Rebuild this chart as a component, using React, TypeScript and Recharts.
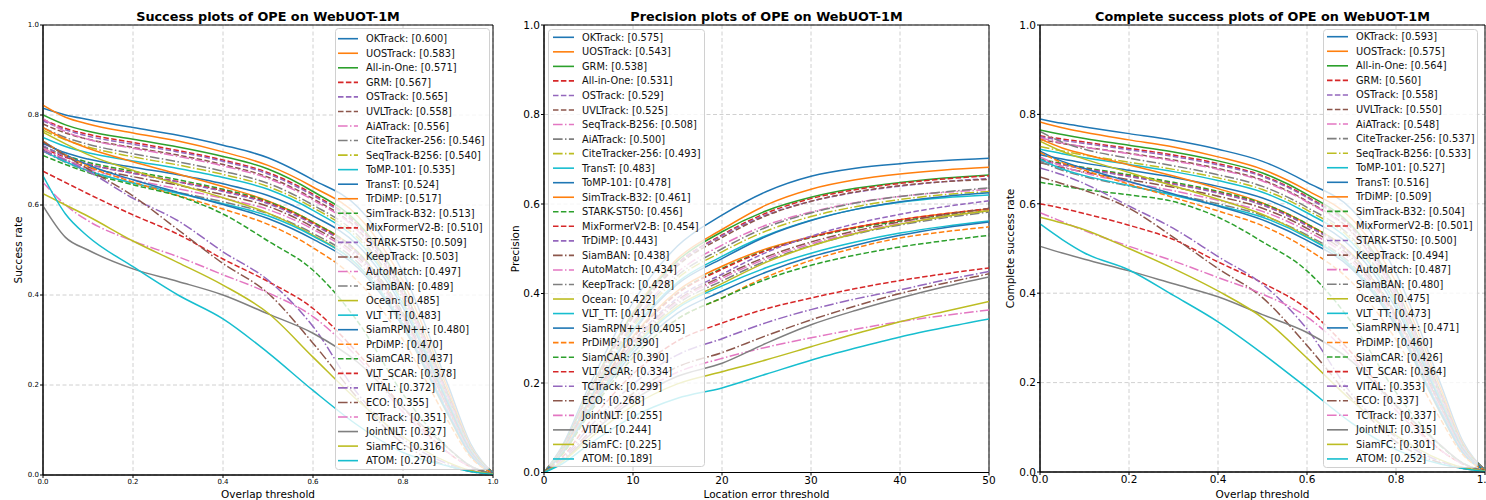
import React from 'react';
import { LineChart, Line, XAxis, YAxis, CartesianGrid, Legend, ReferenceArea } from 'recharts';

// ---------- shared styling ----------
const COLORS = ['#1f77b4', '#ff7f0e', '#2ca02c', '#d62728', '#9467bd', '#8c564b', '#e377c2', '#7f7f7f', '#bcbd22', '#17becf'];
const DASHES = ['', '5.5 2.4', '9.6 2.4 1.5 2.4'];
const colorOf = (i: number) => COLORS[i % 10];
const dashOf = (i: number) => DASHES[Math.floor(i / 3) % 3] || undefined;
const FONT = 'DejaVu Sans, Verdana, sans-serif';

// ---------- panel 1: success plot ----------
const successX = [0, 0.05, 0.1, 0.2, 0.3, 0.4, 0.5, 0.6, 0.7, 0.8, 0.9, 0.95, 1];
const successTicks = [0, 0.2, 0.4, 0.6, 0.8, 1];
const successNames = ['OKTrack', 'UOSTrack', 'All-in-One', 'GRM', 'OSTrack', 'UVLTrack', 'AiATrack', 'CiteTracker-256', 'SeqTrack-B256', 'ToMP-101', 'TransT', 'TrDiMP', 'SimTrack-B32', 'MixFormerV2-B', 'STARK-ST50', 'KeepTrack', 'AutoMatch', 'SiamBAN', 'Ocean', 'VLT_TT', 'SiamRPN++', 'PrDiMP', 'SiamCAR', 'VLT_SCAR', 'VITAL', 'ECO', 'TCTrack', 'JointNLT', 'SiamFC', 'ATOM'];
const successScores = ['0.600', '0.583', '0.571', '0.567', '0.565', '0.558', '0.556', '0.546', '0.540', '0.535', '0.524', '0.517', '0.513', '0.510', '0.509', '0.503', '0.497', '0.489', '0.485', '0.483', '0.480', '0.470', '0.437', '0.378', '0.372', '0.355', '0.351', '0.327', '0.316', '0.270'];
const successValues = [
  [0.815, 0.800, 0.790, 0.772, 0.755, 0.733, 0.705, 0.656, 0.595, 0.450, 0.200, 0.070, 0.005],
  [0.822, 0.795, 0.780, 0.760, 0.742, 0.718, 0.688, 0.640, 0.575, 0.430, 0.190, 0.065, 0.005],
  [0.800, 0.778, 0.764, 0.746, 0.729, 0.708, 0.680, 0.630, 0.560, 0.415, 0.180, 0.062, 0.005],
  [0.790, 0.770, 0.757, 0.739, 0.721, 0.700, 0.672, 0.624, 0.555, 0.410, 0.178, 0.060, 0.005],
  [0.787, 0.767, 0.753, 0.735, 0.718, 0.697, 0.669, 0.621, 0.552, 0.408, 0.177, 0.060, 0.005],
  [0.780, 0.760, 0.746, 0.728, 0.711, 0.690, 0.662, 0.614, 0.545, 0.400, 0.172, 0.058, 0.005],
  [0.792, 0.763, 0.746, 0.726, 0.708, 0.687, 0.659, 0.611, 0.542, 0.398, 0.170, 0.057, 0.005],
  [0.772, 0.750, 0.735, 0.714, 0.696, 0.675, 0.648, 0.600, 0.532, 0.390, 0.167, 0.056, 0.005],
  [0.766, 0.745, 0.729, 0.707, 0.689, 0.668, 0.641, 0.594, 0.526, 0.384, 0.164, 0.055, 0.005],
  [0.750, 0.730, 0.716, 0.698, 0.681, 0.661, 0.635, 0.588, 0.520, 0.380, 0.162, 0.054, 0.005],
  [0.737, 0.716, 0.702, 0.684, 0.667, 0.647, 0.621, 0.576, 0.510, 0.372, 0.158, 0.052, 0.005],
  [0.772, 0.746, 0.726, 0.696, 0.669, 0.641, 0.609, 0.562, 0.495, 0.355, 0.148, 0.048, 0.004],
  [0.730, 0.710, 0.695, 0.675, 0.656, 0.635, 0.608, 0.562, 0.495, 0.360, 0.152, 0.050, 0.004],
  [0.726, 0.706, 0.691, 0.671, 0.652, 0.632, 0.605, 0.559, 0.492, 0.357, 0.151, 0.050, 0.004],
  [0.732, 0.708, 0.691, 0.670, 0.651, 0.630, 0.603, 0.557, 0.491, 0.356, 0.150, 0.049, 0.004],
  [0.722, 0.700, 0.684, 0.663, 0.644, 0.623, 0.597, 0.551, 0.485, 0.351, 0.147, 0.048, 0.004],
  [0.727, 0.701, 0.681, 0.656, 0.636, 0.615, 0.590, 0.546, 0.480, 0.347, 0.144, 0.047, 0.004],
  [0.720, 0.695, 0.676, 0.649, 0.628, 0.607, 0.581, 0.537, 0.472, 0.340, 0.140, 0.046, 0.004],
  [0.762, 0.736, 0.712, 0.677, 0.646, 0.616, 0.582, 0.533, 0.465, 0.330, 0.133, 0.043, 0.004],
  [0.720, 0.696, 0.676, 0.649, 0.626, 0.603, 0.576, 0.531, 0.466, 0.335, 0.138, 0.045, 0.004],
  [0.742, 0.712, 0.689, 0.656, 0.628, 0.601, 0.570, 0.524, 0.460, 0.330, 0.135, 0.044, 0.004],
  [0.742, 0.711, 0.686, 0.651, 0.621, 0.591, 0.557, 0.505, 0.430, 0.300, 0.120, 0.040, 0.004],
  [0.710, 0.690, 0.672, 0.645, 0.620, 0.580, 0.520, 0.455, 0.340, 0.180, 0.060, 0.020, 0.003],
  [0.675, 0.650, 0.625, 0.578, 0.535, 0.480, 0.430, 0.370, 0.270, 0.150, 0.050, 0.018, 0.003],
  [0.720, 0.700, 0.675, 0.615, 0.565, 0.496, 0.433, 0.330, 0.180, 0.080, 0.025, 0.010, 0.002],
  [0.740, 0.710, 0.680, 0.620, 0.545, 0.470, 0.404, 0.293, 0.170, 0.070, 0.020, 0.008, 0.002],
  [0.650, 0.600, 0.565, 0.520, 0.485, 0.445, 0.405, 0.352, 0.260, 0.140, 0.050, 0.018, 0.002],
  [0.598, 0.528, 0.500, 0.458, 0.430, 0.400, 0.358, 0.315, 0.250, 0.150, 0.060, 0.020, 0.002],
  [0.625, 0.600, 0.575, 0.520, 0.472, 0.422, 0.360, 0.262, 0.165, 0.085, 0.028, 0.010, 0.002],
  [0.665, 0.580, 0.530, 0.463, 0.400, 0.347, 0.272, 0.188, 0.110, 0.050, 0.020, 0.008, 0.001],
];

// ---------- panel 2: precision plot ----------
const precisionX = [0, 2, 5, 10, 15, 20, 25, 30, 35, 40, 45, 50];
const precisionTicks = [0, 10, 20, 30, 40, 50];
const precisionNames = ['OKTrack', 'UOSTrack', 'GRM', 'All-in-One', 'OSTrack', 'UVLTrack', 'SeqTrack-B256', 'AiATrack', 'CiteTracker-256', 'TransT', 'ToMP-101', 'SimTrack-B32', 'STARK-ST50', 'MixFormerV2-B', 'TrDiMP', 'SiamBAN', 'AutoMatch', 'KeepTrack', 'Ocean', 'VLT_TT', 'SiamRPN++', 'PrDiMP', 'SiamCAR', 'VLT_SCAR', 'TCTrack', 'ECO', 'JointNLT', 'VITAL', 'SiamFC', 'ATOM'];
const precisionScores = ['0.575', '0.543', '0.538', '0.531', '0.529', '0.525', '0.508', '0.500', '0.493', '0.483', '0.478', '0.461', '0.456', '0.454', '0.443', '0.438', '0.434', '0.428', '0.422', '0.417', '0.405', '0.390', '0.390', '0.334', '0.299', '0.268', '0.255', '0.244', '0.225', '0.189'];
const precisionValues = [
  [0, 0.058, 0.190, 0.380, 0.506, 0.575, 0.628, 0.662, 0.680, 0.690, 0.697, 0.702],
  [0, 0.054, 0.179, 0.358, 0.478, 0.543, 0.598, 0.633, 0.654, 0.667, 0.676, 0.682],
  [0, 0.054, 0.178, 0.355, 0.473, 0.538, 0.585, 0.615, 0.635, 0.648, 0.658, 0.665],
  [0, 0.053, 0.175, 0.350, 0.467, 0.531, 0.580, 0.612, 0.632, 0.646, 0.656, 0.663],
  [0, 0.053, 0.175, 0.349, 0.466, 0.529, 0.576, 0.606, 0.626, 0.640, 0.650, 0.657],
  [0, 0.053, 0.173, 0.347, 0.462, 0.525, 0.574, 0.606, 0.627, 0.641, 0.650, 0.655],
  [0, 0.051, 0.168, 0.335, 0.447, 0.508, 0.553, 0.582, 0.603, 0.617, 0.626, 0.632],
  [0, 0.050, 0.165, 0.330, 0.440, 0.500, 0.548, 0.580, 0.602, 0.617, 0.627, 0.636],
  [0, 0.049, 0.163, 0.325, 0.434, 0.493, 0.540, 0.572, 0.594, 0.610, 0.621, 0.628],
  [0, 0.048, 0.159, 0.319, 0.425, 0.483, 0.530, 0.564, 0.588, 0.604, 0.614, 0.620],
  [0, 0.048, 0.158, 0.315, 0.421, 0.478, 0.528, 0.563, 0.588, 0.605, 0.617, 0.625],
  [0, 0.046, 0.152, 0.304, 0.406, 0.461, 0.500, 0.527, 0.548, 0.565, 0.578, 0.588],
  [0, 0.046, 0.150, 0.301, 0.401, 0.456, 0.497, 0.525, 0.546, 0.562, 0.575, 0.585],
  [0, 0.045, 0.150, 0.300, 0.400, 0.454, 0.496, 0.526, 0.548, 0.565, 0.578, 0.590],
  [0, 0.044, 0.146, 0.292, 0.390, 0.443, 0.492, 0.528, 0.556, 0.577, 0.594, 0.607],
  [0, 0.044, 0.145, 0.289, 0.385, 0.438, 0.482, 0.515, 0.540, 0.560, 0.576, 0.590],
  [0, 0.043, 0.143, 0.286, 0.382, 0.434, 0.478, 0.511, 0.536, 0.556, 0.572, 0.585],
  [0, 0.043, 0.141, 0.282, 0.377, 0.428, 0.473, 0.507, 0.533, 0.553, 0.569, 0.582],
  [0, 0.042, 0.139, 0.279, 0.371, 0.422, 0.470, 0.506, 0.534, 0.555, 0.572, 0.585],
  [0, 0.042, 0.138, 0.275, 0.367, 0.417, 0.458, 0.490, 0.515, 0.535, 0.550, 0.562],
  [0, 0.041, 0.134, 0.267, 0.356, 0.405, 0.448, 0.482, 0.508, 0.530, 0.547, 0.560],
  [0, 0.039, 0.129, 0.257, 0.343, 0.390, 0.437, 0.474, 0.502, 0.524, 0.538, 0.549],
  [0, 0.039, 0.129, 0.257, 0.343, 0.390, 0.432, 0.463, 0.486, 0.504, 0.518, 0.530],
  [0, 0.033, 0.110, 0.220, 0.294, 0.334, 0.366, 0.390, 0.411, 0.429, 0.444, 0.457],
  [0, 0.030, 0.099, 0.197, 0.263, 0.299, 0.335, 0.364, 0.388, 0.408, 0.430, 0.449],
  [0, 0.027, 0.088, 0.177, 0.236, 0.268, 0.306, 0.341, 0.372, 0.400, 0.423, 0.444],
  [0, 0.026, 0.084, 0.168, 0.224, 0.255, 0.280, 0.301, 0.320, 0.337, 0.351, 0.363],
  [0, 0.024, 0.081, 0.161, 0.215, 0.244, 0.289, 0.330, 0.362, 0.390, 0.415, 0.437],
  [0, 0.023, 0.074, 0.149, 0.198, 0.225, 0.252, 0.281, 0.310, 0.337, 0.360, 0.382],
  [0, 0.019, 0.062, 0.125, 0.166, 0.189, 0.220, 0.251, 0.278, 0.303, 0.324, 0.343],
];

// ---------- panel 3: complete success plot ----------
const completeX = [0, 0.05, 0.1, 0.2, 0.3, 0.4, 0.5, 0.6, 0.7, 0.8, 0.9, 0.95, 1];
const completeTicks = [0, 0.2, 0.4, 0.6, 0.8, 1];
const completeNames = ['OKTrack', 'UOSTrack', 'All-in-One', 'GRM', 'OSTrack', 'UVLTrack', 'AiATrack', 'CiteTracker-256', 'SeqTrack-B256', 'ToMP-101', 'TransT', 'TrDiMP', 'SimTrack-B32', 'MixFormerV2-B', 'STARK-ST50', 'KeepTrack', 'AutoMatch', 'SiamBAN', 'Ocean', 'VLT_TT', 'SiamRPN++', 'PrDiMP', 'SiamCAR', 'VLT_SCAR', 'VITAL', 'ECO', 'TCTrack', 'JointNLT', 'SiamFC', 'ATOM'];
const completeScores = ['0.593', '0.575', '0.564', '0.560', '0.558', '0.550', '0.548', '0.537', '0.533', '0.527', '0.516', '0.509', '0.504', '0.501', '0.500', '0.494', '0.487', '0.480', '0.475', '0.473', '0.471', '0.460', '0.426', '0.364', '0.353', '0.337', '0.337', '0.315', '0.301', '0.252'];
const completeValues = [
  [0.790, 0.780, 0.772, 0.757, 0.742, 0.722, 0.695, 0.648, 0.588, 0.445, 0.198, 0.069, 0.005],
  [0.783, 0.770, 0.760, 0.743, 0.727, 0.705, 0.677, 0.630, 0.567, 0.425, 0.188, 0.064, 0.005],
  [0.765, 0.755, 0.746, 0.731, 0.716, 0.696, 0.669, 0.621, 0.552, 0.410, 0.178, 0.061, 0.005],
  [0.752, 0.745, 0.738, 0.724, 0.709, 0.690, 0.663, 0.616, 0.548, 0.405, 0.176, 0.060, 0.005],
  [0.750, 0.742, 0.735, 0.721, 0.706, 0.687, 0.661, 0.614, 0.546, 0.404, 0.175, 0.059, 0.005],
  [0.744, 0.735, 0.727, 0.713, 0.698, 0.679, 0.653, 0.606, 0.538, 0.396, 0.170, 0.057, 0.005],
  [0.748, 0.736, 0.727, 0.712, 0.696, 0.677, 0.651, 0.604, 0.536, 0.394, 0.168, 0.056, 0.005],
  [0.762, 0.738, 0.722, 0.702, 0.685, 0.665, 0.639, 0.592, 0.525, 0.385, 0.165, 0.055, 0.005],
  [0.728, 0.718, 0.709, 0.693, 0.677, 0.658, 0.632, 0.586, 0.520, 0.380, 0.162, 0.054, 0.005],
  [0.722, 0.712, 0.703, 0.688, 0.672, 0.652, 0.626, 0.580, 0.514, 0.375, 0.160, 0.053, 0.005],
  [0.710, 0.700, 0.691, 0.675, 0.659, 0.639, 0.613, 0.568, 0.503, 0.366, 0.156, 0.051, 0.005],
  [0.745, 0.725, 0.711, 0.687, 0.662, 0.634, 0.602, 0.555, 0.488, 0.350, 0.146, 0.047, 0.004],
  [0.700, 0.690, 0.681, 0.665, 0.648, 0.628, 0.601, 0.555, 0.488, 0.353, 0.150, 0.049, 0.004],
  [0.698, 0.688, 0.679, 0.662, 0.645, 0.625, 0.598, 0.552, 0.486, 0.351, 0.149, 0.049, 0.004],
  [0.697, 0.687, 0.678, 0.661, 0.644, 0.624, 0.597, 0.551, 0.485, 0.350, 0.148, 0.048, 0.004],
  [0.692, 0.681, 0.671, 0.654, 0.637, 0.617, 0.590, 0.545, 0.479, 0.345, 0.145, 0.047, 0.004],
  [0.705, 0.684, 0.669, 0.648, 0.629, 0.608, 0.583, 0.539, 0.473, 0.340, 0.142, 0.046, 0.004],
  [0.695, 0.675, 0.661, 0.640, 0.621, 0.600, 0.574, 0.530, 0.465, 0.333, 0.138, 0.045, 0.004],
  [0.740, 0.717, 0.700, 0.670, 0.640, 0.610, 0.576, 0.527, 0.459, 0.325, 0.131, 0.042, 0.004],
  [0.700, 0.678, 0.663, 0.641, 0.619, 0.596, 0.570, 0.525, 0.460, 0.330, 0.136, 0.044, 0.004],
  [0.718, 0.695, 0.679, 0.650, 0.622, 0.595, 0.564, 0.518, 0.455, 0.326, 0.133, 0.043, 0.004],
  [0.715, 0.692, 0.675, 0.644, 0.614, 0.584, 0.551, 0.499, 0.425, 0.296, 0.118, 0.039, 0.004],
  [0.648, 0.640, 0.632, 0.620, 0.605, 0.570, 0.515, 0.450, 0.335, 0.178, 0.059, 0.020, 0.003],
  [0.600, 0.590, 0.578, 0.552, 0.520, 0.470, 0.423, 0.365, 0.267, 0.148, 0.049, 0.018, 0.003],
  [0.680, 0.665, 0.645, 0.595, 0.545, 0.482, 0.420, 0.320, 0.175, 0.078, 0.024, 0.010, 0.002],
  [0.660, 0.645, 0.630, 0.590, 0.525, 0.455, 0.390, 0.283, 0.165, 0.068, 0.020, 0.008, 0.002],
  [0.580, 0.560, 0.540, 0.505, 0.472, 0.435, 0.398, 0.347, 0.257, 0.138, 0.049, 0.018, 0.002],
  [0.505, 0.490, 0.476, 0.450, 0.421, 0.392, 0.352, 0.312, 0.248, 0.149, 0.060, 0.020, 0.002],
  [0.570, 0.557, 0.542, 0.500, 0.455, 0.405, 0.345, 0.255, 0.160, 0.082, 0.027, 0.010, 0.002],
  [0.555, 0.520, 0.490, 0.452, 0.395, 0.336, 0.265, 0.188, 0.110, 0.050, 0.018, 0.008, 0.001],
];

const yTicks = [0, 0.2, 0.4, 0.6, 0.8, 1];

function buildRows(xs: number[], values: number[][]) {
  return xs.map((x, j) => {
    const row: Record<string, number> = { x };
    values.forEach((s, i) => { row['k' + i] = s[j]; });
    return row;
  });
}

type LegendCfg = { left: number; top: number; w: number; h: number; row0: number; step: number; lx0: number; lx1: number; tx: number; fs: number };

function LegendBox({ names, scores, cfg }: { names: string[]; scores: string[]; cfg: LegendCfg }) {
  return (
    <svg width={cfg.w} height={cfg.h} style={{ display: 'block', fontFamily: FONT }}>
      <rect x={0.5} y={0.5} width={cfg.w - 1} height={cfg.h - 1} rx={3} fill="#ffffff" fillOpacity={0.8} stroke="#d0d0d0" strokeWidth={1} />
      {names.map((n, i) => {
        const y = cfg.row0 + i * cfg.step;
        return (
          <g key={i}>
            <line x1={cfg.lx0} x2={cfg.lx1} y1={y} y2={y} stroke={colorOf(i)} strokeWidth={1.6} strokeDasharray={dashOf(i)} />
            <text x={cfg.tx} y={y} dominantBaseline="central" fontSize={cfg.fs} fill="#111">{`${n}: [${scores[i]}]`}</text>
          </g>
        );
      })}
    </svg>
  );
}

type PanelProps = {
  left: number; width: number; title: string;
  xs: number[]; names: string[]; scores: string[]; values: number[][];
  xTicks: number[]; xDomain: [number, number]; xFmt: (v: number) => string;
  tickFs: number; xLabel: string; yLabel: string; yLabelX: number; xLabelY: number; labelFs: number;
  margin: { top: number; right: number; left: number; bottom: number };
  yAxisW: number; xAxisH: number; legend: LegendCfg;
};

function Panel(p: PanelProps) {
  const rows = buildRows(p.xs, p.values);
  const plotLeft = p.margin.left + p.yAxisW;
  const plotW = p.width - plotLeft - p.margin.right;
  return (
    <div style={{ position: 'absolute', left: p.left, top: 0, width: p.width, height: 500 }}>
      <div style={{ position: 'absolute', left: plotLeft - 40, width: plotW + 80, top: 8, lineHeight: '18px', textAlign: 'center', fontWeight: 'bold', fontSize: 12.8, fontFamily: FONT, color: '#000', zIndex: 2 }}>{p.title}</div>
      <LineChart width={p.width} height={500} data={rows} margin={p.margin} style={{ fontFamily: FONT }}>
        <CartesianGrid stroke="#c4c4c4" strokeDasharray="4 2.5" strokeWidth={0.8} />
        <XAxis
          dataKey="x" type="number" domain={p.xDomain} ticks={p.xTicks} interval={0} allowDataOverflow
          tickFormatter={p.xFmt} tick={{ fontSize: p.tickFs, fill: '#000' }} tickSize={3} tickMargin={1}
          stroke="#000" height={p.xAxisH}
          label={{
            content: (lp: any) => {
              const vb = lp.viewBox || { x: plotLeft, width: plotW };
              return <text x={vb.x + vb.width / 2} y={p.xLabelY} textAnchor="middle" dominantBaseline="central" fontSize={p.labelFs} fill="#000">{p.xLabel}</text>;
            },
          }}
        />
        <YAxis
          type="number" domain={[0, 1]} ticks={yTicks} interval={0} allowDataOverflow
          tickFormatter={(v: number) => v.toFixed(1)} tick={{ fontSize: p.tickFs, fill: '#000' }} tickSize={3} tickMargin={1}
          stroke="#000" width={p.yAxisW}
          label={{
            content: (lp: any) => {
              const vb = lp.viewBox || { y: p.margin.top, height: 450 };
              const cy = vb.y + vb.height / 2;
              return <text x={p.yLabelX} y={cy} transform={`rotate(-90 ${p.yLabelX} ${cy})`} textAnchor="middle" dominantBaseline="central" fontSize={p.labelFs} fill="#000">{p.yLabel}</text>;
            },
          }}
        />
        {p.names.map((n, i) => (
          <Line key={n} name={n} dataKey={'k' + i} type="monotone" stroke={colorOf(i)} strokeWidth={1.5}
            strokeDasharray={dashOf(i)} dot={false} activeDot={false} isAnimationActive={false} />
        ))}
        <ReferenceArea x1={p.xDomain[0]} x2={p.xDomain[1]} y1={0} y2={1} fill="none" fillOpacity={0} stroke="#000" strokeWidth={1} ifOverflow="visible" />
        <Legend
          layout="horizontal" verticalAlign="middle" align="center"
          wrapperStyle={{ position: 'absolute', left: p.legend.left, top: p.legend.top, width: p.legend.w, height: p.legend.h, margin: 0, padding: 0 }}
          content={() => <LegendBox names={p.names} scores={p.scores} cfg={p.legend} />}
        />
      </LineChart>
    </div>
  );
}

export default function App() {
  const f1 = (v: number) => v.toFixed(1);
  const f0 = (v: number) => String(Math.round(v));
  return (
    <div style={{ position: 'absolute', left: 0, top: 0, width: 1486, height: 500, background: '#fff', fontFamily: FONT, overflow: 'hidden' }}>
      <Panel
        left={0} width={508} title="Success plots of OPE on WebUOT-1M"
        xs={successX} names={successNames} scores={successScores} values={successValues}
        xTicks={successTicks} xDomain={[0, 1]} xFmt={f1} tickFs={7}
        xLabel="Overlap threshold" yLabel="Success rate" yLabelX={18} xLabelY={494} labelFs={10.5}
        margin={{ top: 25, right: 15, left: 8, bottom: 0 }} yAxisW={35} xAxisH={25}
        legend={{ left: 335, top: 28, w: 155, h: 442, row0: 10.7, step: 14.55, lx0: 3, lx1: 23, tx: 31, fs: 9.8 }}
      />
      <Panel
        left={495} width={510} title="Precision plots of OPE on WebUOT-1M"
        xs={precisionX} names={precisionNames} scores={precisionScores} values={precisionValues}
        xTicks={precisionTicks} xDomain={[0, 50]} xFmt={f0} tickFs={10.5}
        xLabel="Location error threshold" yLabel="Precision" yLabelX={20} xLabelY={494} labelFs={10.5}
        margin={{ top: 25, right: 16, left: 14, bottom: 0 }} yAxisW={35} xAxisH={27.5}
        legend={{ left: 53, top: 29, w: 157, h: 438, row0: 8.3, step: 14.54, lx0: 5, lx1: 26, tx: 34, fs: 9.8 }}
      />
      <Panel
        left={990} width={496} title="Complete success plots of OPE on WebUOT-1M"
        xs={completeX} names={completeNames} scores={completeScores} values={completeValues}
        xTicks={completeTicks} xDomain={[0, 1]} xFmt={f1} tickFs={10.5}
        xLabel="Overlap threshold" yLabel="Complete success rate" yLabelX={20} xLabelY={494} labelFs={10.5}
        margin={{ top: 25, right: 1, left: 15, bottom: 0 }} yAxisW={35} xAxisH={28}
        legend={{ left: 333, top: 29, w: 155, h: 439, row0: 7.7, step: 14.56, lx0: 4, lx1: 25, tx: 33, fs: 9.8 }}
      />
    </div>
  );
}
